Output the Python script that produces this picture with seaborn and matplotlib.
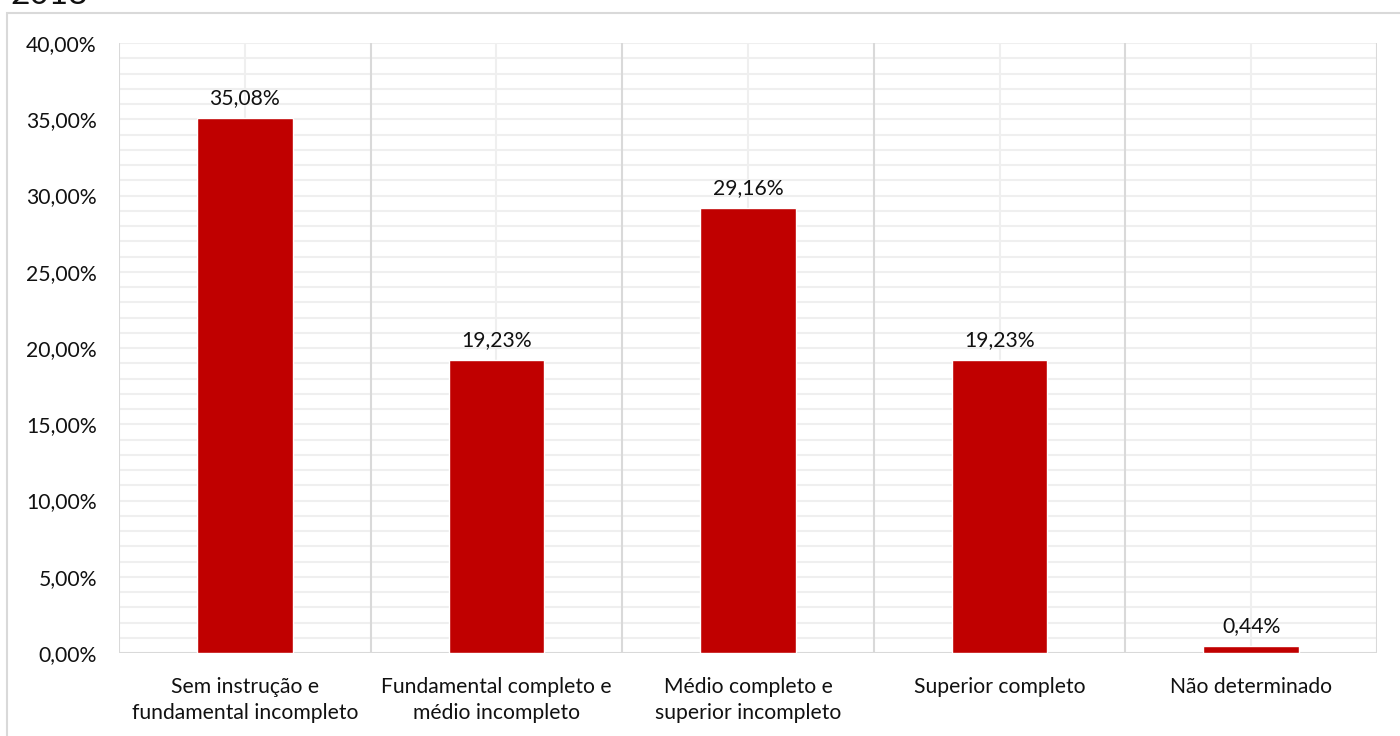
import matplotlib
matplotlib.use("Agg")
import matplotlib.pyplot as plt
from matplotlib.patches import Rectangle
from matplotlib.ticker import MultipleLocator, FuncFormatter
import seaborn as sns
import pandas as pd
import numpy as np

categories = [
    "Sem instrução e\nfundamental incompleto",
    "Fundamental completo e\nmédio incompleto",
    "Médio completo e\nsuperior incompleto",
    "Superior completo",
    "Não determinado",
]
values = [35.08, 19.23, 29.16, 19.23, 0.44]
year_label = "2018"

sns.set_theme(style="white")
plt.rcParams["font.family"] = ["Lato", "DejaVu Sans"]

df = pd.DataFrame({"categoria": categories, "valor": values})

fig = plt.figure(figsize=(14, 7.36), dpi=100)
ax = fig.add_axes([119 / 1400, 1 - 653 / 736, (1377 - 119) / 1400, (653 - 43) / 736])

grid_light = "#efefef"
grid_dark = "#d9d9d9"
bar_color = "#C00000"
text_color = "#111111"
fs = 15.2

sns.barplot(data=df, x="categoria", y="valor", color=bar_color, width=0.38,
            saturation=1, edgecolor="white", linewidth=1.0, ax=ax, zorder=3)

ax.set_ylim(0, 40)
ax.set_xlim(-0.5, len(categories) - 0.5)

# horizontal gridlines: every 1%, all light
for y in np.arange(1, 41, 1):
    ax.axhline(y, color=grid_light, lw=1.5, zorder=1)
ax.axhline(0, color=grid_dark, lw=1.5, zorder=2)

# vertical lines: light at category centres, darker at boundaries
for i in range(len(categories)):
    ax.axvline(i, color=grid_light, lw=1.5, zorder=1)
for b in np.arange(-0.5, len(categories), 1):
    ax.axvline(b, color=grid_dark, lw=1.5, zorder=2)

for s in ax.spines.values():
    s.set_visible(False)

ax.yaxis.set_major_locator(MultipleLocator(5))
ax.yaxis.set_major_formatter(FuncFormatter(lambda v, p: f"{v:.2f}".replace(".", ",") + "%"))
ax.tick_params(axis="y", length=0, pad=16, labelsize=fs, labelcolor=text_color)
ax.set_xticks(range(len(categories)))
ax.set_xticklabels(categories)
ax.tick_params(axis="x", length=0, pad=17, labelsize=fs, labelcolor=text_color)
for t in ax.get_xticklabels():
    t.set_linespacing(1.42)
ax.set_xticks(np.arange(-0.5, len(categories), 1), minor=True)
ax.tick_params(axis="x", which="minor", length=7, width=1.5, color=grid_dark)
ax.set_xlabel("")
ax.set_ylabel("")

labels = [f"{v:.2f}".replace(".", ",") + "%" for v in values]
ax.bar_label(ax.containers[0], labels=labels, padding=7, fontsize=fs, color=text_color)

# chart container border
fig.patches.append(Rectangle((7 / 1400, -0.05), 1.1, 1 - 13 / 736 + 0.05,
                             transform=fig.transFigure, fill=False,
                             edgecolor=grid_dark, lw=1.5))
fig.text(10 / 1400, 1 - 4 / 736, year_label, fontsize=24, va="baseline", ha="left",
         color=text_color)

fig.savefig("out.png", dpi=100)
